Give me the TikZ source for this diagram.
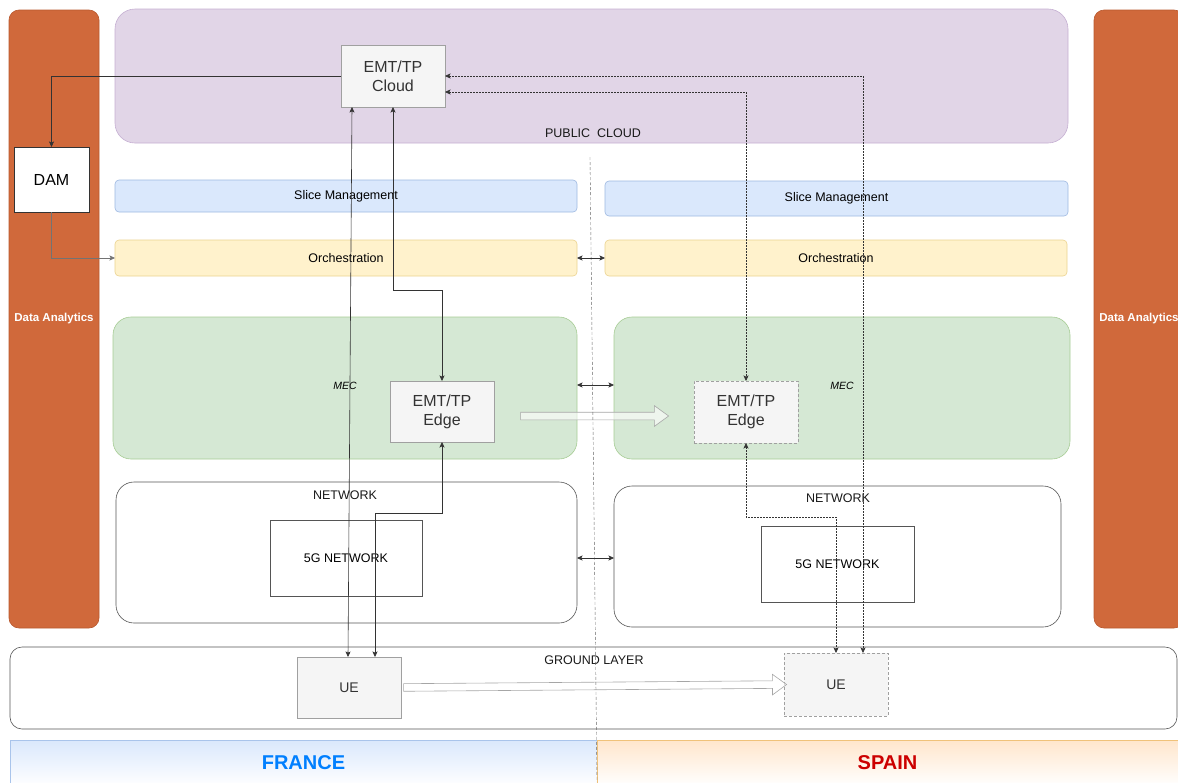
\documentclass[tikz,border=0pt]{standalone}
\usepackage{fontspec}
\setmainfont{Liberation Sans}
\usetikzlibrary{shapes, shapes.arrows, positioning, arrows, arrows.meta, calc}

\definecolor{anafill}{HTML}{D0693B}
\definecolor{anaborder}{HTML}{B8582E}
\definecolor{pubfill}{HTML}{E1D5E7}
\definecolor{pubborder}{HTML}{C5AFD2}
\definecolor{slicefill}{HTML}{DAE8FC}
\definecolor{sliceborder}{HTML}{9DB8E0}
\definecolor{orchfill}{HTML}{FFF2CC}
\definecolor{orchborder}{HTML}{EBD38F}
\definecolor{mecfill}{HTML}{D5E8D4}
\definecolor{mecborder}{HTML}{A6CC94}
\definecolor{tpfill}{HTML}{F5F5F5}
\definecolor{tpborder}{HTML}{A0A0A0}
\definecolor{tptext}{HTML}{333333}
\definecolor{netborder}{HTML}{555555}
\definecolor{frtext}{HTML}{007FFF}
\definecolor{estext}{HTML}{CC0000}
\definecolor{frborder}{HTML}{A9C4EB}
\definecolor{esfill}{HTML}{FFE6CC}
\definecolor{esborder}{HTML}{F0C27A}

\newcommand{\tpfont}{\fontsize{16}{19}\selectfont}
\newcommand{\lblfont}{\fontsize{12.5}{15}\selectfont}

\tikzset{
    layer/.style={rectangle, inner sep=0pt, outer sep=0pt},
    analytics/.style={layer, fill=anafill, draw=anaborder, rounded corners=10pt,
        text=white, font=\fontsize{11.5}{14}\selectfont\bfseries},
    publayer/.style={layer, fill=pubfill, draw=pubborder, rounded corners=20pt},
    slicebar/.style={layer, fill=slicefill, draw=sliceborder, rounded corners=4pt, font=\lblfont},
    orchbar/.style={layer, fill=orchfill, draw=orchborder, rounded corners=4pt, font=\lblfont},
    meclayer/.style={layer, fill=mecfill, draw=mecborder, rounded corners=18pt},
    netlayer/.style={layer, fill=white, draw=netborder, rounded corners=18pt},
    groundlayer/.style={layer, draw=netborder, rounded corners=12pt},
    tpbox/.style={layer, fill=tpfill, draw=tpborder, thick, text=tptext, align=center, font=\tpfont},
    tpghost/.style={tpbox, densely dashed, thin},
    gbox/.style={layer, draw=netborder, thick, font=\lblfont},
    dambox/.style={layer, fill=white, draw=black!80, thick, font=\tpfont},
    lbl/.style={inner sep=0pt, font=\lblfont, text=black!90},
    meclbl/.style={inner sep=0pt, font=\fontsize{10.5}{12}\selectfont\itshape},
    hollow/.style={single arrow, draw=black!35, fill=white, fill opacity=0.6, draw opacity=1,
        inner sep=3.5pt, single arrow head extend=6.5pt, single arrow tip angle=72,
        outer sep=0pt},
    link/.style={<->, draw=black!80},
    dlink/.style={<->, draw=black!80, dash pattern=on 1.5pt off 1.5pt},
    country/.style={layer, font=\fontsize{20}{24}\selectfont\bfseries},
}

\begin{document}
\begin{tikzpicture}[x=1pt, y=-1pt, >={Stealth[length=5.5pt, width=5pt, inset=1.2pt]}, semithick]
    \useasboundingbox (0,0) rectangle (1178,782);

    % side bars
    \node[analytics, minimum width=90, minimum height=618] (ana1) at (54,319) {Data Analytics};
    \node[analytics, minimum width=90, minimum height=618] (ana2) at (1139,319) {Data Analytics};

    % public cloud
    \node[publayer, minimum width=953, minimum height=134] (pub) at (591.5,76) {};
    \node[lbl] (publbl) at (593,133) {PUBLIC\ \ CLOUD};
    \node[tpbox, minimum width=104, minimum height=62] (cloud) at (393,76) {EMT/TP\\Cloud};
    \node[dambox, minimum width=75, minimum height=65] (dam) at (51.5,179.5) {DAM};

    % slice management and orchestration
    \node[slicebar, minimum width=462, minimum height=32] (slice1) at (346,196) {Slice Management};
    \node[slicebar, minimum width=463, minimum height=35] (slice2) at (836.5,198.5) {Slice Management};
    \node[orchbar, minimum width=462, minimum height=36] (orch1) at (346,258) {Orchestration};
    \node[orchbar, minimum width=462, minimum height=36] (orch2) at (836,258) {Orchestration};

    % MEC
    \node[meclayer, minimum width=464, minimum height=142] (mec1) at (345,388) {};
    \node[meclayer, minimum width=456, minimum height=142] (mec2) at (842,388) {};
    \node[meclbl] (meclbl1) at (345,386) {MEC};
    \node[meclbl] (meclbl2) at (842,386) {MEC};
    \node[tpbox, minimum width=104, minimum height=61] (edge1) at (442,411.5) {EMT/TP\\Edge};
    \node[tpghost, minimum width=104, minimum height=62] (edge2) at (746,412) {EMT/TP\\Edge};
    \node[hollow, minimum height=148] (migrate) at (592,416) {};

    % network
    \node[netlayer, minimum width=461, minimum height=141] (net1) at (346.5,552.5) {};
    \node[netlayer, minimum width=447, minimum height=141] (net2) at (837.5,556.5) {};
    \node[lbl] (netlbl1) at (345,495) {NETWORK};
    \node[lbl] (netlbl2) at (838,498) {NETWORK};
    \node[gbox, minimum width=152, minimum height=76] (g1) at (346,558) {5G NETWORK};
    \node[gbox, minimum width=153, minimum height=76] (g2) at (837.5,564) {5G NETWORK};

    % ground layer
    \node[groundlayer, minimum width=1167, minimum height=82] (ground) at (593.5,688) {};
    \node[lbl] (groundlbl) at (594,660) {GROUND LAYER};
    \node[tpbox, font=\fontsize{14}{16}\selectfont, minimum width=104, minimum height=61] (ue1) at (349,687.5) {UE};
    \node[tpghost, font=\fontsize{14}{16}\selectfont, minimum width=104, minimum height=63] (ue2) at (836,684.5) {UE};
    \path let \p1 = ($(ue2.west)-(ue1.east)$) in
        node[hollow, minimum height={veclen(\x1,\y1)}, rotate={atan2(\y1,\x1)}]
        (roam) at ($(ue1.east)!0.5!(ue2.west)$) {};

    % countries
    \node[country, top color=slicefill, bottom color=white, draw=frborder,
        minimum width=587, minimum height=46, text=frtext] (france) at (303.5,763) {FRANCE};
    \node[country, top color=esfill, bottom color=white, draw=esborder,
        minimum width=581, minimum height=46, text=estext] (spain) at (887.5,763) {SPAIN};

    % border line
    \coordinate (bordtop) at (590,157);
    \coordinate (bordbot) at (597,782);
    \draw[black!60, densely dashed, thin] (bordtop) -- (bordbot);

    % connectors
    \draw[->, draw=black!80] (cloud.west) -| (dam.north);
    \draw[->, draw=black!55] (dam.south) |- (orch1.west);
    \draw[link] ([xshift=-41]cloud.south) -- ([xshift=-1]ue1.north);
    \draw[link] (cloud.south) -- (cloud.south |- 0,290) -| (edge1.north);
    \draw[link] (edge1.south) -- (edge1.south |- 0,513) -| ([xshift=26]ue1.north);
    \draw[dlink] (cloud.east) -| ([xshift=27]ue2.north);
    \draw[dlink] ([yshift=-16]cloud.east) -| (edge2.north);
    \draw[dlink] (edge2.south) -- (edge2.south |- 0,517) -| (ue2.north);
    \draw[<->, draw=black!80] (orch1.east) -- (orch2.west);
    \draw[<->, draw=black!80] ([yshift=3]mec1.east) -- ([yshift=3]mec2.west);
    \draw[<->, draw=black!80] (net1.east |- g1.center) -- (net2.west |- g1.center);
\end{tikzpicture}
\end{document}
